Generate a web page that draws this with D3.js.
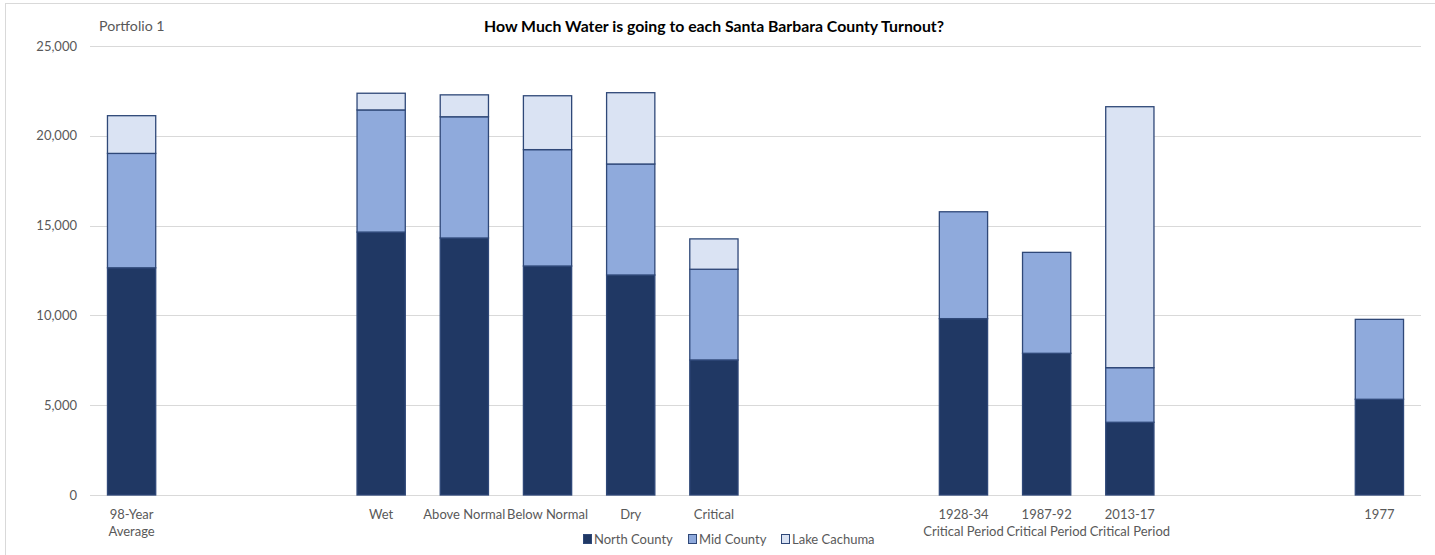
<!DOCTYPE html>
<html><head><meta charset="utf-8">
<script src="https://cdn.jsdelivr.net/npm/d3@7"></script>
<style>
html,body{margin:0;padding:0;background:#fff;}
svg text{font-family:Lato,"Liberation Sans",sans-serif;}
</style></head>
<body><svg id="c" width="1435" height="555"></svg>
<script>
const categories = ["98-Year\nAverage", "", "", "Wet", "Above Normal", "Below Normal", "Dry", "Critical", "", "", "1928-34\nCritical Period", "1987-92\nCritical Period", "2013-17\nCritical Period", "", "", "1977"];
const northCounty = [12650, null, null, 14640, 14310, 12750, 12250, 7520, null, null, 9820, 7890, 4050, null, null, 5330];
const midCounty   = [6370, null, null, 6800, 6750, 6480, 6180, 5050, null, null, 5950, 5620, 3040, null, null, 4450];
const lakeCachuma = [2100, null, null, 930, 1220, 3000, 3970, 1690, null, null, 0, 0, 14530, null, null, 0];
const seriesNames = ["North County", "Mid County", "Lake Cachuma"];
const yTicks = [0, 5000, 10000, 15000, 20000, 25000];
const colors = ["#203864", "#8faadc", "#dae3f3"];

const svg = d3.select("#c");
const mLeft = 90, mRight = 1421, mTop = 46, mBottom = 495;

// outer chart border
svg.append("rect").attr("x", 5.5).attr("y", 3.5).attr("width", 1440).attr("height", 560)
  .attr("fill", "none").attr("stroke", "#d9d9d9").attr("stroke-width", 1);

const x = d3.scaleBand().domain(d3.range(categories.length)).range([mLeft, mRight])
  .paddingInner(0.42).paddingOuter(0.21);
const y = d3.scaleLinear().domain([0, 25000]).range([mBottom, mTop]);

// gridlines
svg.append("g").selectAll("line").data(yTicks).join("line")
  .attr("x1", mLeft).attr("x2", mRight)
  .attr("y1", d => Math.round(y(d)) + 0.5).attr("y2", d => Math.round(y(d)) + 0.5)
  .attr("stroke", "#d9d9d9").attr("stroke-width", 1);

// y axis labels
const yAxis = svg.append("g").attr("transform", `translate(${mLeft},0)`)
  .call(d3.axisLeft(y).tickValues(yTicks).tickSize(0).tickPadding(13).tickFormat(d3.format(",")));
yAxis.select(".domain").remove();
yAxis.selectAll("text").attr("fill", "#595959").attr("font-size", 13)
  .style("font-family", 'Lato,"Liberation Sans",sans-serif');

// stacked data
const rows = categories.map((c, i) => ({i, north: northCounty[i], mid: midCounty[i], lake: lakeCachuma[i]}))
  .filter(r => r.north !== null);
const stack = d3.stack().keys(["north", "mid", "lake"]);
const layers = stack(rows);

svg.append("g").selectAll("g").data(layers).join("g")
  .attr("fill", (d, k) => colors[k])
  .selectAll("rect").data(d => d.filter(s => s[1] - s[0] > 0)).join("rect")
  .attr("x", d => x(d.data.i))
  .attr("width", x.bandwidth())
  .attr("y", d => y(d[1]))
  .attr("height", d => y(d[0]) - y(d[1]))
  .attr("stroke", "#2f4878").attr("stroke-width", 1.3);

// x labels
const xl = svg.append("g");
categories.forEach((c, i) => {
  if (!c) return;
  const lines = c.split("\n");
  const t = xl.append("text").attr("x", x(i) + x.bandwidth() / 2).attr("y", 519)
    .attr("text-anchor", "middle").attr("fill", "#595959").attr("font-size", 13);
  lines.forEach((l, j) => t.append("tspan").attr("x", x(i) + x.bandwidth() / 2).attr("dy", j ? 17 : 0).text(l));
});

// title
svg.append("text").attr("x", 714).attr("y", 32).attr("text-anchor", "middle")
  .attr("font-size", 15.8).attr("font-weight", "bold").attr("fill", "#000")
  .text("How Much Water is going to each Santa Barbara County Turnout?");
svg.append("text").attr("x", 99).attr("y", 31).attr("font-size", 14.2).attr("fill", "#595959").text("Portfolio 1");

// legend
const legX = [583, 688, 781];
const lg = svg.append("g");
seriesNames.forEach((n, k) => {
  lg.append("rect").attr("x", legX[k] + 0.5).attr("y", 534.5).attr("width", 8).attr("height", 9)
    .attr("fill", colors[k]).attr("stroke", "#2f4878").attr("stroke-width", 1);
  lg.append("text").attr("x", legX[k] + 11).attr("y", 544).attr("font-size", 13).attr("fill", "#595959").text(n);
});
</script></body></html>
